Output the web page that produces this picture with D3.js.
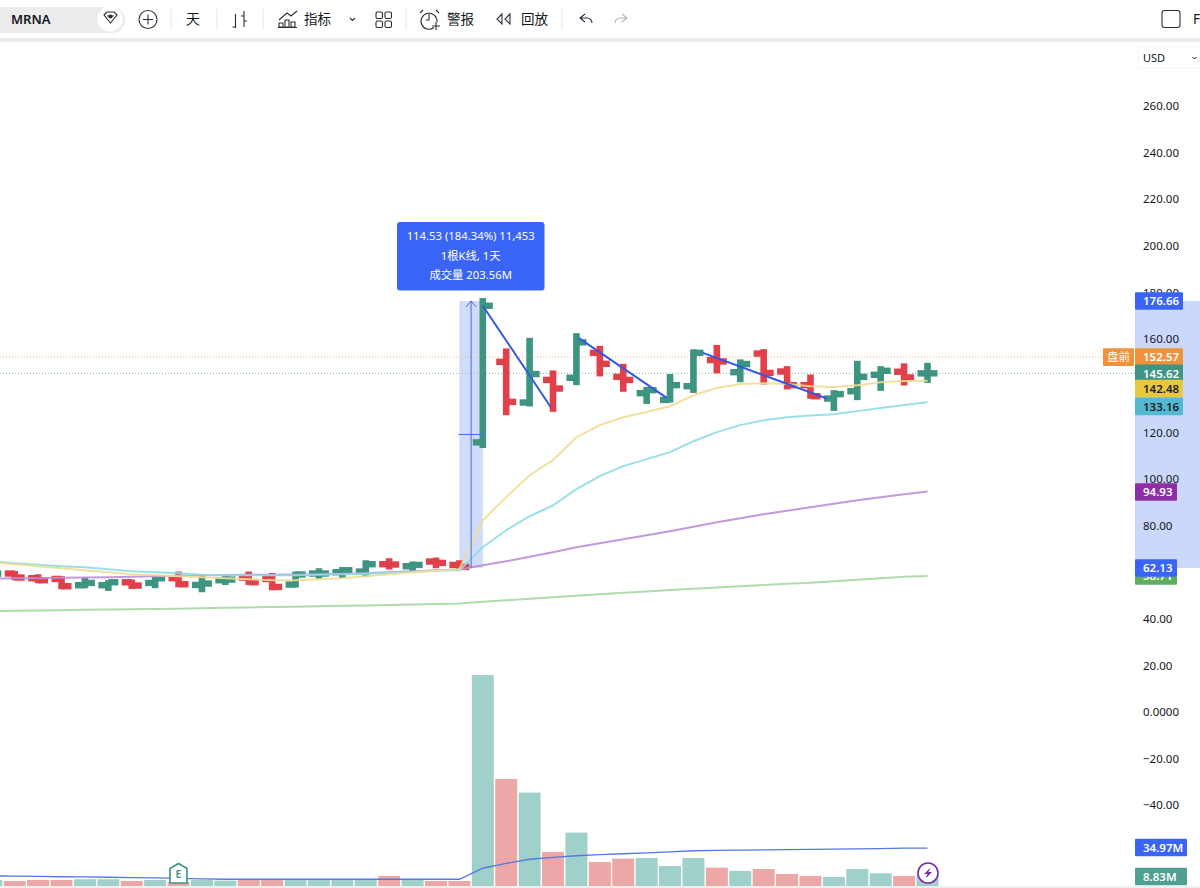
<!DOCTYPE html>
<html><head><meta charset="utf-8">
<script src="https://cdn.jsdelivr.net/npm/d3@7/dist/d3.min.js"></script>
<style>html,body{margin:0;padding:0;background:#fff;overflow:hidden}svg{display:block}
text{font-family:"Noto Sans","Noto Sans CJK SC",sans-serif}</style></head><body>
<svg id="c" width="1200" height="888"></svg>
<script>
const opens=[59.5,59.73,57.71,57.41,54.70,54.70,55.99,55.69,57.71,54.83,56.85,58.01,57.41,55.0,59.73,60.28,60.58,63.72,62.86,64.88,63.42,116,150.54,133.1,142.8,143.7,154.4,144.1,137.1,134.2,140.1,151.3,146.1,154.1,146.4,140.55,134.8,137.95,145,146.3,145.6];
const highs=[62,60.84,59.43,58.57,58.01,56.85,57.15,59.13,60.58,59.13,59.43,60.58,59.98,60.58,62,62.56,65.43,66.3,64.88,66.59,65.43,177.9,156.3,160.85,146.85,162.85,157.4,149.7,139.8,145.3,155.9,157.8,151.6,155.99,148.7,145.1,138.4,151,148.7,149.9,150.1];
const lows=[58,56.85,55.56,52.99,53.42,52.26,53.12,53.42,53.85,51.70,54.83,54.83,52.56,53.72,57.41,57.71,58.27,61.44,59.98,62,61.44,113.6,127.67,131.4,129.1,140.55,144.3,137.7,132.5,133.1,137.2,145.6,141.8,140.85,138.7,134.7,129.5,134.1,138.1,140.4,141.5];
const closes=[59.7,58.01,56.85,54.28,55.69,55.99,54.58,57.71,55.13,55.43,57.15,55.99,53.97,59.30,59.73,61.14,63.72,63.59,63.42,64.28,62.56,174.6,133.4,145.3,139.1,158.9,149.7,142.8,138.4,140.55,154.4,150.7,149.6,145.8,140.55,135.8,136.7,144.1,146.7,143.85,145.62];
const volumes=[3.9,2.92,3.9,3.9,4.58,4.58,2.92,3.9,1.95,3.9,3.2,3.9,3.9,3.9,3.9,3.9,3.9,7.8,3.9,2.92,2.92,203.56,102.3,89,31.2,50,21.4,24.7,25.3,17.5,25.3,15.9,12.7,14.6,9.7,7.8,6.8,14.6,10.4,7.8,8.83];
const volumeMA=[7.8,7.6,7.31,7.02,6.82,6.53,6.24,5.85,5.36,4.87,4.58,4.58,4.58,4.58,4.58,4.58,4.58,4.58,4.58,4.58,4.58,15.3,20,24.07,25.83,27.49,28.56,29.43,30.2,31.19,32.36,32.65,32.94,33.14,33.43,33.72,33.92,34.11,34.5,34.89,34.97];
const maYellow=[64.58,63.72,62.86,62,61.14,60.28,59.43,59,58.57,58.14,57.71,57.28,56.85,56.85,57.28,57.71,58.57,59.43,60.28,60.93,61.57,82.6,92.5,101.9,108.4,118.2,123.4,126.8,129,131.5,136.2,139.3,141,141.4,141,140.1,139.7,140.5,141.8,142.3,142.48];
const maCyan=[65,64.15,63.5,62.86,62.43,61.57,60.71,60.28,59.86,59.21,59,59,59,59,59.21,59.43,59.64,60.07,60.5,60.93,61.14,71,78.3,84.3,89,95.9,101.5,105.8,108.8,111.8,116.5,120.4,123.4,125.5,126.8,127.5,128.1,129.4,130.7,132,133.16];
const maPurple=[57.58,57.71,57.71,57.92,58.05,58.14,58.35,58.57,58.78,59,59.13,59.21,59.21,59.3,59.43,59.64,59.86,60.28,60.71,61.14,61.44,63.29,65,66.94,68.87,71,72.73,74.45,76.17,77.88,79.81,81.74,83.46,85.18,86.68,88.18,89.68,91.19,92.47,93.76,94.93];
const maGreen=[43.55,43.72,43.85,43.97,44.15,44.28,44.4,44.53,44.66,44.83,45,45.18,45.35,45.52,45.69,45.86,46.04,46.21,46.42,46.64,46.85,47.62,48.27,48.91,49.55,50.2,50.84,51.44,52.04,52.64,53.2,53.76,54.28,54.79,55.31,55.82,56.42,57.07,57.71,58.35,58.71];
const trendLines=[[21,174.6,23.9,131.2],[25.09,160.85,28.86,135.1],[30.4,154.4,35.7,134.8]];
const tickValues=[260,240,220,200,180,160,120,100,80,40,20,0,-20,-40];
const tooltipLines=["114.53 (184.34%) 11,453","1根K线, 1天","成交量 203.56M"];
const priceTags=[["176.66",176.66,"#3a64f5","#fff",0,48],["152.57",152.57,"#f0923b","#fff",0,48],["145.62",145.62,"#3f9584","#fff",0,48],["142.48",142.48,"#e8c63f","#1c1c28",8,48],["133.16",133.16,"#52b9d2","#1c1c28",4,48],["58.71",58.71,"#5fae5f","#fff",0,42],["62.13",62.13,"#3a64f5","#fff",0,42],["94.93",94.93,"#8e2ea6","#fff",0.5,42]];
const volumeTags=[["34.97M",34.97,"#3a64f5"],["8.83M",8.83,"#4f9f92"]];
const measure={from:20,to:21,low:62.13,high:176.66};

const svg=d3.select("#c");
const x=d3.scaleLinear().domain([0,40]).range([-8.7,927.5]);
const y=d3.scaleLinear().domain([-40,260]).range([806,106.7]);
const vy=d3.scaleLinear().domain([-2,203.56]).range([886,675]);
const up=i=>closes[i]>=opens[i];
const idx=d3.range(opens.length);
const RED="#e1404a",GRN="#3d9481";

// toolbar
const tb=svg.append("g");
tb.append("rect").attr("x",0).attr("y",38).attr("width",1200).attr("height",4).attr("fill","#ebebeb");
tb.append("rect").attr("x",-20).attr("y",7).attr("width",145).attr("height",26).attr("rx",13).attr("fill","#ececec");
tb.append("circle").attr("cx",110).attr("cy",19).attr("r",12.5).attr("fill","#fff");
tb.append("text").attr("x",11).attr("y",23.5).attr("font-size",13).attr("font-weight",600).attr("fill","#131722").text("MRNA");
const ic=tb.append("g").attr("fill","none").attr("stroke","#2a2e39").attr("stroke-width",1.1);
ic.append("path").attr("d","M104 15l3-3h7l3 3-6.5 8z M107 16h7");
ic.append("circle").attr("cx",110.5).attr("cy",16.5).attr("r",1.5).attr("fill","#2a2e39");
ic.append("circle").attr("cx",148).attr("cy",19.5).attr("r",9);
ic.append("path").attr("d","M143 19.5h10M148 14.5v10");
ic.append("path").attr("d","M235.5 14v14M232.5 27h3M244 11v16M241 16h3M244 21h3");
ic.append("path").attr("d","M279 20l8-7 4 3 6-5M279 27v-4h4v4zM285 27v-7h4v7zM291 27v-5h4v5zM278 27.5h19");
ic.append("path").attr("d","M350 18l2.5 2.5 2.5-2.5");
ic.append("rect").attr("x",376).attr("y",12).attr("width",6.5).attr("height",6.5).attr("rx",1.5);
ic.append("rect").attr("x",385).attr("y",12).attr("width",6.5).attr("height",6.5).attr("rx",1.5);
ic.append("rect").attr("x",376).attr("y",21).attr("width",6.5).attr("height",6.5).attr("rx",1.5);
ic.append("rect").attr("x",385).attr("y",21).attr("width",6.5).attr("height",6.5).attr("rx",1.5);
ic.append("path").attr("d","M434 27.5A8 8 0 1 1 437 22M429 14v6h-3M420 13l3-3M436 10l3 3M436 22v8M432 26h8");
ic.append("path").attr("d","M502 14l-5 5 5 5zM510 14l-5 5 5 5z");
ic.append("path").attr("d","M585 14l-5 4 5 4M580 18h7a5 5 0 0 1 5 5");
tb.append("path").attr("d","M622 14l5 4-5 4M627 18h-7a5 5 0 0 0-5 5").attr("fill","none").attr("stroke","#b4b6bd").attr("stroke-width",1.1);
tb.append("rect").attr("x",1162).attr("y",10.5).attr("width",18).attr("height",17).attr("rx",2.5).attr("fill","none").attr("stroke","#2a2e39").attr("stroke-width",1.1);
[171,217,263,406,562].forEach(s=>tb.append("line").attr("x1",s).attr("x2",s).attr("y1",9).attr("y2",30).attr("stroke","#e6e6e6"));
[["天",186,14],["指标",304,13.5],["警报",447,13.5],["回放",521,13.5],["F",1193,13.5]].forEach(d=>tb.append("text").attr("x",d[1]).attr("y",24).attr("font-size",d[2]).attr("fill","#131722").attr("font-family","Noto Sans CJK SC").text(d[0]));
tb.append("rect").attr("x",1138).attr("y",47).attr("width",64).attr("height",21).attr("rx",2).attr("fill","#fff").attr("stroke","#f4f4f4");
tb.append("text").attr("x",1143).attr("y",61.5).attr("font-size",11).attr("fill","#131722").text("USD");
tb.append("path").attr("d","M1192.5 57l2 2 2-2").attr("fill","none").attr("stroke","#131722");
svg.append("rect").attr("x",0).attr("y",886).attr("width",1200).attr("height",2).attr("fill","#efefef");

// right axis band + measure
svg.append("rect").attr("x",1135).attr("y",y(measure.high)).attr("width",65).attr("height",y(measure.low)-y(measure.high)).attr("fill","#ccd8fb");
svg.append("rect").attr("x",x(measure.from)).attr("y",y(measure.high)).attr("width",x(measure.to)-x(measure.from)).attr("height",y(measure.low)-y(measure.high)).attr("fill","#d1dcfa");

// axis
const ax=d3.axisRight(y).tickValues(tickValues).tickSize(0).tickPadding(0).tickFormat(v=>v===0?"0.0000":d3.format(".2f")(v).replace("-","−"));
const ag=svg.append("g").attr("transform","translate(1143,-0.7)").call(ax);
ag.select(".domain").remove();
ag.selectAll("text").attr("font-size",11.5).attr("fill","#131722").attr("font-family",'"Noto Sans",sans-serif');

// dotted price lines
svg.append("line").attr("x1",0).attr("x2",1103).attr("y1",y(152.57)).attr("y2",y(152.57)).attr("stroke","#f0b27a").attr("stroke-dasharray","1 2");
svg.append("line").attr("x1",0).attr("x2",1135).attr("y1",y(145.62)).attr("y2",y(145.62)).attr("stroke","#7fb5a9").attr("stroke-dasharray","1 2");

// volume
svg.append("g").selectAll("rect").data(idx).join("rect")
 .attr("x",i=>x(i)-11).attr("width",22).attr("y",i=>vy(volumes[i])).attr("height",i=>886-vy(volumes[i]))
 .attr("fill",i=>up(i)?"#9fd0ca":"#eca8a6");
svg.append("path").attr("d",d3.line().x((d,i)=>x(i)).y(d=>vy(d))(volumeMA)).attr("fill","none").attr("stroke","#5478e4").attr("stroke-width",1.3);

// OHLC
const bars=svg.append("g").selectAll("g").data(idx).join("g").attr("fill",i=>up(i)?GRN:RED);
bars.append("rect").attr("x",i=>x(i)-3.3).attr("width",6.6).attr("y",i=>y(highs[i])).attr("height",i=>y(lows[i])-y(highs[i]));
bars.append("rect").attr("x",i=>x(i)-10).attr("width",10).attr("height",6.4).attr("y",i=>y(opens[i])-3.2);
bars.append("rect").attr("x",i=>x(i)).attr("width",10).attr("height",6.4).attr("y",i=>y(closes[i])-3.2);

// moving averages
const ln=d3.line().x((d,i)=>x(i)).y(d=>y(d));
[[maGreen,"#a9d7a6"],[maPurple,"#bb8ed6"],[maCyan,"#8edbe4"],[maYellow,"#f0dd92"]].forEach(m=>
 svg.append("path").attr("d",ln(m[0])).attr("fill","none").attr("stroke",m[1]).attr("stroke-width",2).attr("opacity",.9));

// trend lines
svg.append("g").selectAll("line").data(trendLines).join("line")
 .attr("x1",d=>x(d[0])).attr("y1",d=>y(d[1])).attr("x2",d=>x(d[2])).attr("y2",d=>y(d[3]))
 .attr("stroke","#3658e0").attr("stroke-width",2);

// measure lines
const mx=(x(measure.from)+x(measure.to))/2, my=(y(measure.low)+y(measure.high))/2, mt=y(measure.high), mb=y(measure.low);
const mg=svg.append("g").attr("fill","none").attr("stroke","#4a68e8").attr("stroke-width",1);
mg.append("line").attr("x1",mx).attr("x2",mx).attr("y1",mt).attr("y2",mb);
mg.append("line").attr("x1",x(measure.from)-1).attr("x2",x(measure.to)).attr("y1",my).attr("y2",my);
mg.append("path").attr("d",`M${mx-5} ${mt+6}L${mx} ${mt}L${mx+5} ${mt+6}`);

// tooltip
svg.append("rect").attr("x",397).attr("y",222).attr("width",147.5).attr("height",68.5).attr("rx",3).attr("fill","#3a64f5");
svg.append("g").selectAll("text").data(tooltipLines).join("text").attr("x",470.7).attr("y",(d,i)=>240+i*19.5).attr("text-anchor","middle").attr("font-size",11.3).attr("fill","#fff").text(d=>d);

// price tags
const tags=svg.append("g").selectAll("g").data(priceTags).join("g").attr("transform",d=>`translate(1135,${y(d[1])+d[4]})`);
tags.append("rect").attr("x",0).attr("y",-8.8).attr("width",d=>d[5]).attr("height",17.6).attr("rx",1).attr("fill",d=>d[2]);
tags.append("text").attr("x",8).attr("y",4.2).attr("font-size",11.5).attr("font-weight",600).attr("fill",d=>d[3]).text(d=>d[0]);
svg.append("rect").attr("x",1103).attr("y",y(152.57)-8.8).attr("width",31).attr("height",17.6).attr("rx",1).attr("fill","#f0923b");
svg.append("text").attr("x",1107).attr("y",y(152.57)+4.2).attr("font-size",11.5).attr("fill","#fff").attr("font-family","Noto Sans CJK SC").text("盘前");
const vt=svg.append("g").selectAll("g").data(volumeTags).join("g").attr("transform",(d,i)=>`translate(1135,${i?876.5:847.5})`);
vt.append("rect").attr("x",0).attr("y",-8.8).attr("width",52).attr("height",17.6).attr("rx",1).attr("fill",d=>d[2]);
vt.append("text").attr("x",8).attr("y",4.2).attr("font-size",11.5).attr("font-weight",600).attr("fill","#fff").text(d=>d[0]);

// markers
const em=svg.append("g").attr("transform","translate(178.5,873.5)");
em.append("path").attr("d","M-8.5 9.5V-5L0 -10L8.5 -5V9.5Z").attr("fill","#fff").attr("stroke",GRN).attr("stroke-width",1.6).attr("stroke-linejoin","round");
em.append("text").attr("y",4).attr("text-anchor","middle").attr("font-size",10.5).attr("font-weight",600).attr("fill",GRN).text("E");
const bo=svg.append("g").attr("transform","translate(928,873)");
bo.append("circle").attr("r",10).attr("fill","#fff").attr("stroke","#7b2fa8").attr("stroke-width",1.6);
bo.append("path").attr("d","M2.5 -5.5L-4 1H-.5L-2.5 5.5L4 -1H.5Z").attr("fill","#7b2fa8");
</script></body></html>
